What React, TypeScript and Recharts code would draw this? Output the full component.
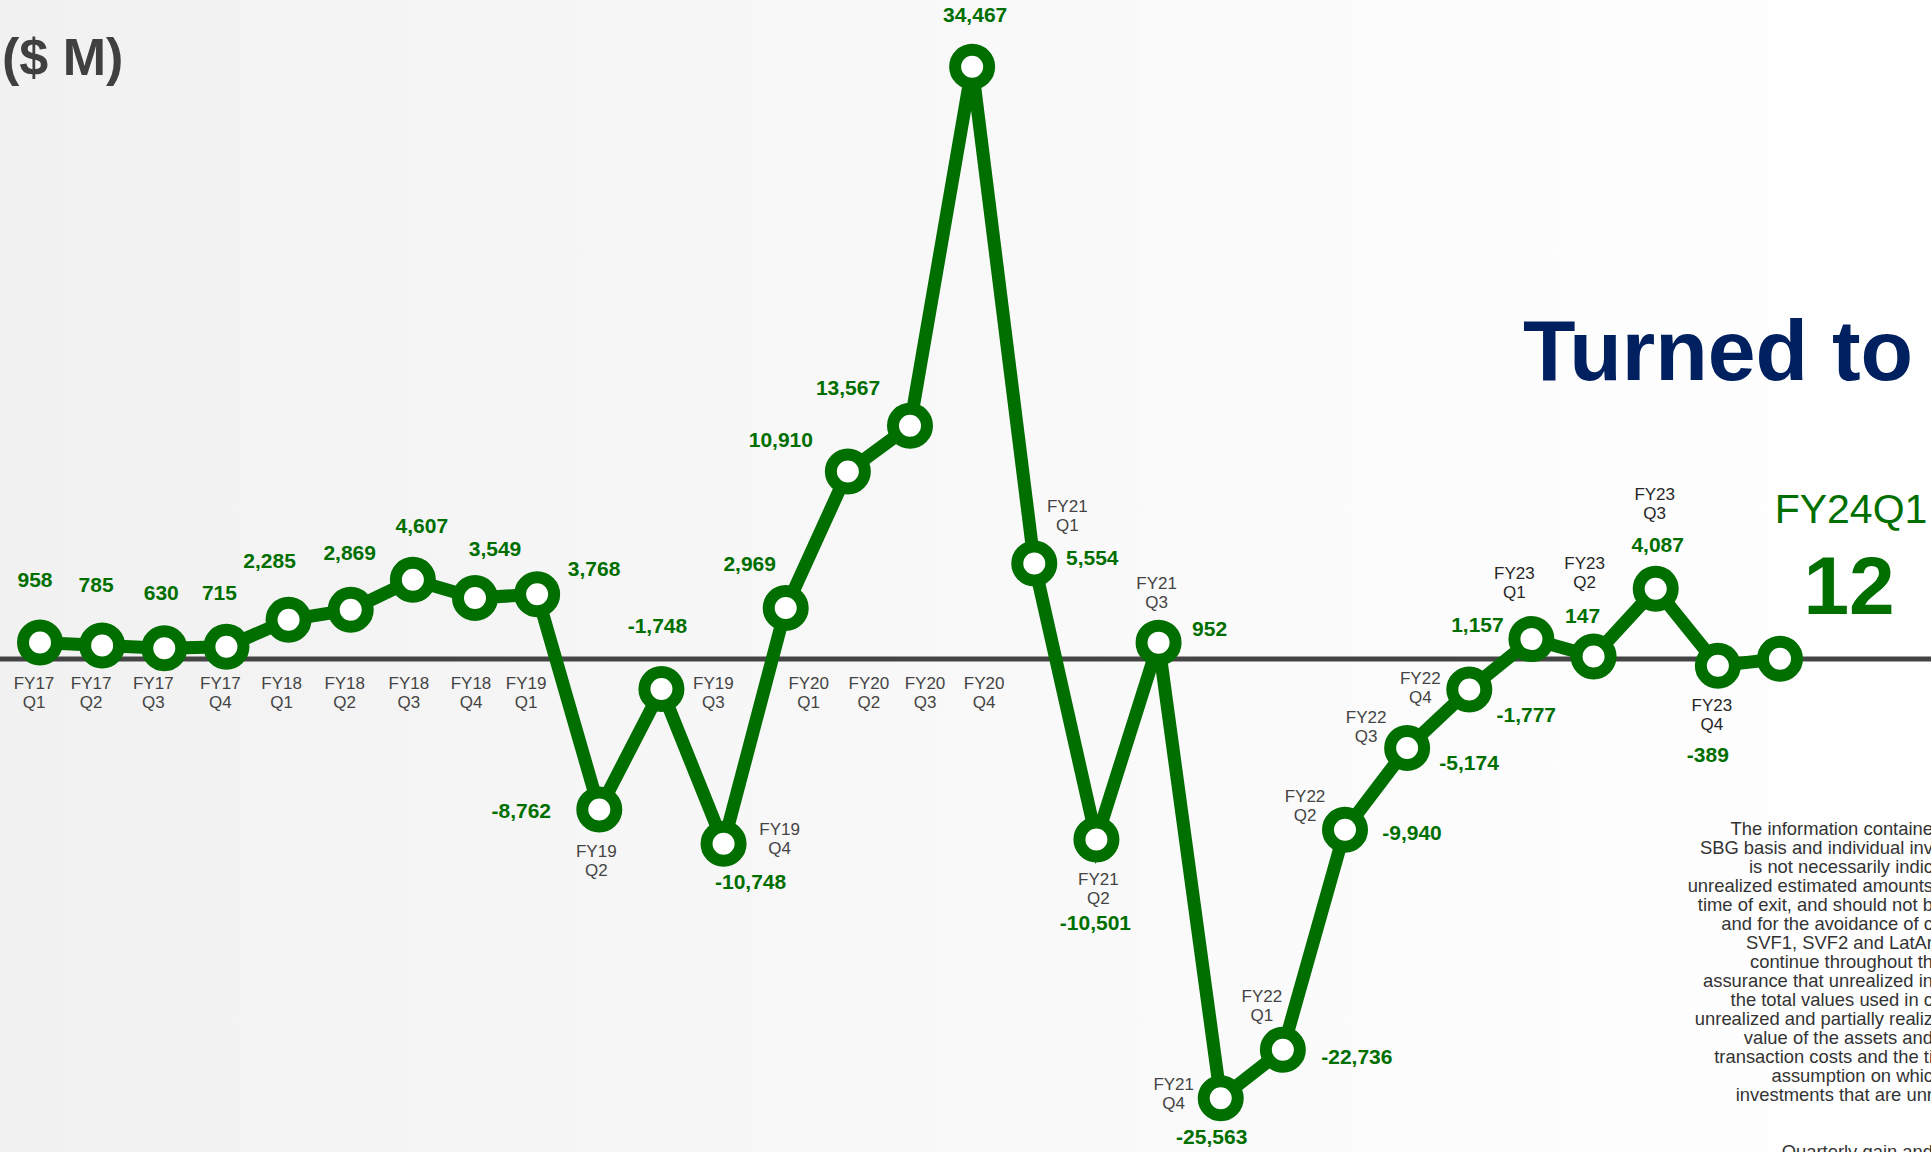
import { LineChart, Line, XAxis, YAxis, ReferenceLine, LabelList } from "recharts";

const categories = [
  "FY17 Q1", "FY17 Q2", "FY17 Q3", "FY17 Q4",
  "FY18 Q1", "FY18 Q2", "FY18 Q3", "FY18 Q4",
  "FY19 Q1", "FY19 Q2", "FY19 Q3", "FY19 Q4",
  "FY20 Q1", "FY20 Q2", "FY20 Q3", "FY20 Q4",
  "FY21 Q1", "FY21 Q2", "FY21 Q3", "FY21 Q4",
  "FY22 Q1", "FY22 Q2", "FY22 Q3", "FY22 Q4",
  "FY23 Q1", "FY23 Q2", "FY23 Q3", "FY23 Q4",
  "FY24 Q1",
];

// quarterly gain/loss ($ M)
const gains = [
  958, 785, 630, 715,
  2285, 2869, 4607, 3549,
  3768, -8762, -1748, -10748,
  2969, 10910, 13567, 34467,
  5554, -10501, 952, -25563,
  -22736, -9940, -5174, -1777,
  1157, 147, 4087, -389,
  12,
];

const disclaimer = [
  "The information containe",
  "SBG basis and individual inv",
  "is not necessarily indic",
  "unrealized estimated amounts",
  "time of exit, and should not b",
  "and for the avoidance of c",
  "SVF1, SVF2 and LatAr",
  "continue throughout th",
  "assurance that unrealized in",
  "the total values used in c",
  "unrealized and partially realiz",
  "value of the assets and",
  "transaction costs and the ti",
  "assumption on whic",
  "investments that are unr",
  "",
  "",
  "Quarterly gain and",
];

const data = categories.map((name, i) => ({ name, gain: gains[i] }));

// label placement, hand-tuned like the slide (offset of text centre from the point)
const valueOffsets: [number, number][] = [
  [-5, -63], [-6, -61], [-3, -56], [-7, -54],
  [-19, -59], [-1, -57], [9, -54], [20, -50],
  [57, -26], [-78, 1], [-4, -64], [27, 38],
  [-36, -45], [-67, -32], [-62, -38], [3, -52],
  [58, -6], [-1, 83], [51, -14], [-9, 38],
  [74, 7], [67, 3], [62, 15], [57, 25],
  [-54, -15], [-11, -41], [2, -44], [-10, 89],
  [69, -74],
];

const catOffsets: [number, number][] = [
  [-6, 40], [-11, 37], [-11, 35], [-6, 36],
  [-7, 63], [-6, 73], [-4, 103], [-4, 85],
  [-11, 89], [-3, 41], [52, -6], [56, -15],
  [23, 75], [21, 211], [15, 257], [12, 616],
  [33, -58], [2, 40], [-2, -60], [-47, -14],
  [-21, -54], [-40, -34], [-41, -31], [-49, -12],
  [-17, -66], [-9, -93], [-1, -95], [-6, 39],
  [71, -151],
];

const GREEN = "#006f00";
const FONT = "'Liberation Sans', Arial, sans-serif";
const LAST = gains.length - 1;

function pointOf(props: any) {
  const x = props.x ?? props.viewBox?.x ?? 0;
  const y = props.y ?? props.viewBox?.y ?? 0;
  return { x, y };
}

function ValueLabel(props: any) {
  const { x, y } = pointOf(props);
  const i = props.index;
  const [dx, dy] = valueOffsets[i];
  const fs = i === LAST ? 82 : 21;
  return (
    <text
      x={x + dx}
      y={y + dy + fs * 0.36}
      textAnchor="middle"
      fill={GREEN}
      fontFamily={FONT}
      fontWeight="bold"
      fontSize={fs}
    >
      {Number(props.value).toLocaleString("en-US")}
    </text>
  );
}

function CategoryLabel(props: any) {
  const { x, y } = pointOf(props);
  const i = props.index;
  const [dx, dy] = catOffsets[i];
  const [fy, q] = categories[i].split(" ");
  if (i === LAST) {
    return (
      <text x={x + dx} y={y + dy + 15} textAnchor="middle" fill={GREEN} fontFamily={FONT} fontSize={41}>
        {fy + q}
      </text>
    );
  }
  const color = fy === "FY23" ? "#262626" : "#444";
  return (
    <text textAnchor="middle" fill={color} fontFamily={FONT} fontSize={17}>
      <tspan x={x + dx} y={y + dy + 6}>{fy}</tspan>
      <tspan x={x + dx} y={y + dy + 25}>{q}</tspan>
    </text>
  );
}

export default function App() {
  return (
    <div
      style={{
        position: "absolute",
        left: 0,
        top: 0,
        width: 1931,
        height: 1152,
        overflow: "hidden",
        background: "linear-gradient(to right, #f1f1f1 0%, #f8f8f8 45%, #ffffff 100%)",
        fontFamily: FONT,
      }}
    >
      <div style={{ position: "absolute", left: 2, top: 27, fontSize: 52, fontWeight: "bold", color: "#404040", lineHeight: "60px" }}>
        ($ M)
      </div>
      <div style={{ position: "absolute", left: 1523, top: 300, fontSize: 86, fontWeight: "bold", color: "#002060", lineHeight: "100px", whiteSpace: "nowrap" }}>
        Turned to
      </div>

      <LineChart width={1931} height={1152} data={data} margin={{ top: 0, right: 0, bottom: 0, left: 0 }} style={{ position: "absolute", left: 0, top: 0 }}>
        <XAxis dataKey="name" hide padding={{ left: 40, right: 151 }} />
        <YAxis hide domain={[-28688, 38347]} allowDataOverflow />
        <ReferenceLine y={0} stroke="#444" strokeWidth={5} />
        <Line
          type="linear"
          dataKey="gain"
          stroke={GREEN}
          strokeWidth={13}
          dot={{ r: 17, fill: "#fff", stroke: GREEN, strokeWidth: 12 }}
          activeDot={false}
          isAnimationActive={false}
        >
          <LabelList dataKey="gain" content={ValueLabel} />
          <LabelList dataKey="name" content={CategoryLabel} />
        </Line>
      </LineChart>

      <div
        style={{
          position: "absolute",
          right: -2,
          top: 819,
          fontSize: 18.4,
          lineHeight: "19px",
          color: "#333",
          textAlign: "right",
          whiteSpace: "pre",
        }}
      >
        {disclaimer.map((line, i) => (
          <div key={i}>{line || " "}</div>
        ))}
      </div>
    </div>
  );
}
